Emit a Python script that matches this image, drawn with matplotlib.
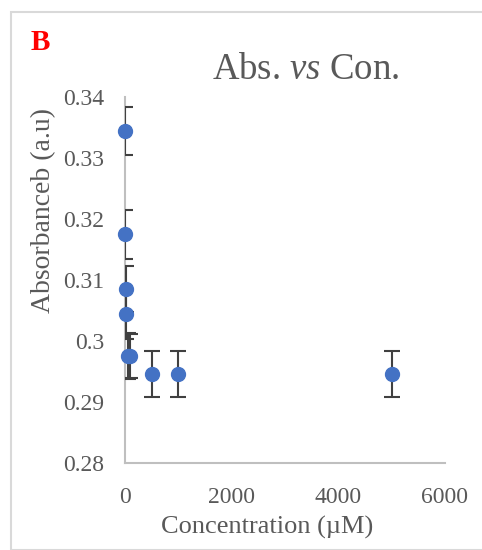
import numpy as np
import matplotlib.pyplot as plt
from matplotlib.patches import Rectangle

# concentration (uM) and absorbance readings
conc = [1, 5, 10, 25, 50, 100, 500, 1000, 5000]
absorb = [0.3344, 0.3175, 0.3085, 0.3044, 0.2975, 0.2975, 0.2946, 0.2946, 0.2946]
err = [0.0039, 0.0040, 0.0038, 0.0040, 0.0038, 0.0036, 0.0038, 0.0038, 0.0038]

plt.rcParams['font.family'] = ['Liberation Serif', 'DejaVu Serif']
plt.rcParams['mathtext.fontset'] = 'custom'
plt.rcParams['mathtext.rm'] = 'Liberation Serif'
plt.rcParams['mathtext.it'] = 'Liberation Serif:italic'

fig = plt.figure(figsize=(4.82, 5.5), dpi=100)

# chart frame like an excel chart area
frame = Rectangle((10.5 / 482, 0), 1.2, 1 - 12 / 550, transform=fig.transFigure,
                  fill=False, edgecolor="#d9d9d9", linewidth=1.5)
fig.patches.append(frame)

ax = fig.add_axes([125 / 482, 1 - 463 / 550, (445 - 125) / 482, (463 - 97) / 550])

ax.errorbar(conc, absorb, yerr=err, fmt="none", ecolor="#404040",
            elinewidth=1.5, capsize=6, capthick=1.5, zorder=3)
ax.plot(conc, absorb, "o", color="#4472C4", markersize=10, zorder=4, clip_on=False)

ax.set_xlim(0, 6000)
ax.set_ylim(0.28, 0.34)
ax.set_xticks([0, 2000, 4000, 6000])
ax.set_yticks(np.arange(0.28, 0.3401, 0.01))
ax.set_yticklabels(["0.28", "0.29", "0.3", "0.31", "0.32", "0.33", "0.34"])

for s in ["top", "right"]:
    ax.spines[s].set_visible(False)
for s in ["left", "bottom"]:
    ax.spines[s].set_color("#bfbfbf")
    ax.spines[s].set_linewidth(1.5)
    ax.spines[s].set_zorder(2)

ax.tick_params(length=0, labelsize=17, labelcolor="#595959")
ax.tick_params(axis="y", pad=15)
ax.tick_params(axis="x", pad=17)

ax.set_xlabel("Concentration (\u00b5M)", fontsize=19, color="#595959")
ax.set_ylabel("Absorbanceb (a.u)", fontsize=20, color="#595959")
ax.xaxis.set_label_coords(0.444, -0.145)
ax.yaxis.set_label_coords(-0.215, 0.69)

fig.text(306 / 482, 1 - 70 / 550, "Abs. $\\it{vs}$ Con.", fontsize=26.5, color="#595959",
         ha="center", va="center")
fig.text(31 / 482, 1 - 42 / 550, "B", fontsize=21, color="red", fontweight="bold",
         ha="left", va="center")

fig.savefig("out.png", dpi=100)
